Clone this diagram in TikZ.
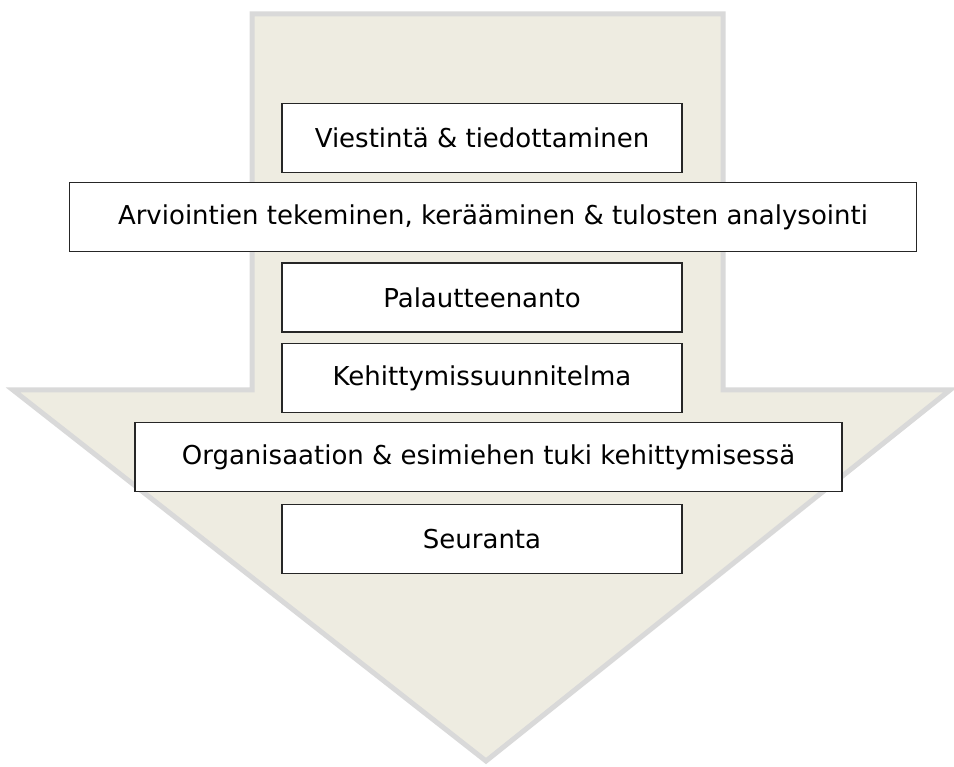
\documentclass[tikz,border=0pt]{standalone}
\usepackage{fontspec}
\setmainfont{DejaVu Sans}
\usepackage{tikz}
\usetikzlibrary{positioning}

\definecolor{arrowfill}{HTML}{EEECE1}
\definecolor{arrowline}{HTML}{D9D9D9}

\begin{document}
\begin{tikzpicture}[x=1pt,y=-1pt,
  thick,box/.style={rectangle,draw=black!85,line width=1.6pt,fill=white,
    minimum height=69pt,inner sep=0pt,font=\fontsize{26}{30}\selectfont}]

  \useasboundingbox (0,0) rectangle (954,767);

  % big arrow behind the steps
  \draw[arrowline,fill=arrowfill,line width=5pt,line join=miter]
    (252,14) -- (723,14) -- (723,390) -- (950,390) -- (486,761)
    -- (13,390) -- (252,390) -- cycle;

  \node[box,minimum width=400pt] (1) at (482,138) {Viestintä \& tiedottaminen};
  \node[box,minimum width=847pt] (2) at (493,217) {Arviointien tekeminen, kerääminen \& tulosten analysointi};
  \node[box,minimum width=400pt] (3) at (482,297.5) {Palautteenanto};
  \node[box,minimum width=400pt] (4) at (482,378) {Kehittymissuunnitelma};
  \node[box,minimum width=707pt] (5) at (488.5,457) {Organisaation \& esimiehen tuki kehittymisessä};
  \node[box,minimum width=400pt] (6) at (482,539) {Seuranta};

\end{tikzpicture}
\end{document}
